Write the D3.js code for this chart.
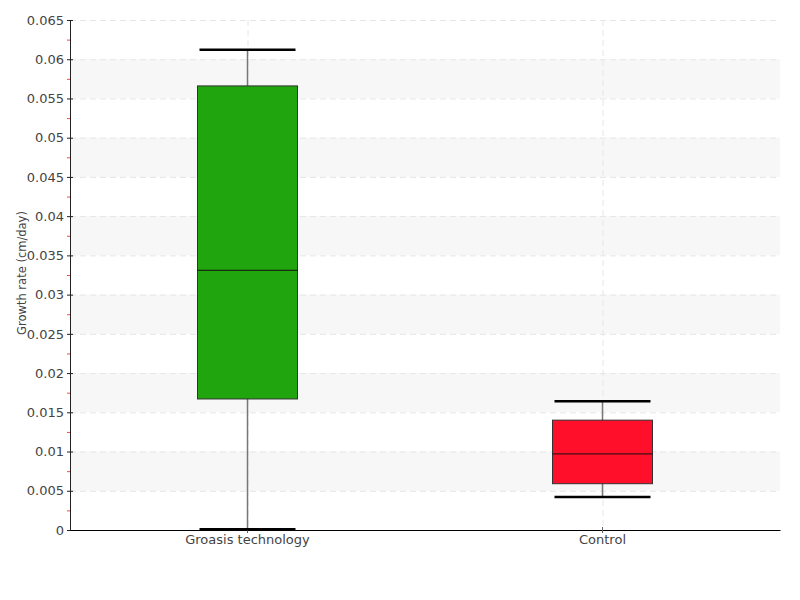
<!DOCTYPE html>
<meta charset="utf-8">
<html>
<head>
<style>
  body { margin: 0; background: #fff; }
  text { font-family: "DejaVu Sans", sans-serif; fill: #444; }
</style>
</head>
<body>
<div id="chart"></div>
<script src="https://d3js.org/d3.v7.min.js"></script>
<script>

// box plot data
var groups = ["Groasis technology", "Control"];
var whiskerLow = [0.0001, 0.0042];
var q1Values = [0.0167, 0.0059];
var medians = [0.0331, 0.0097];
var q3Values = [0.0566, 0.0140];
var whiskerHigh = [0.0612, 0.0164];
var boxColors = ["#21a50e", "#ff0f2a"];
var yTicks = [0, 0.005, 0.01, 0.015, 0.02, 0.025, 0.03, 0.035, 0.04, 0.045, 0.05, 0.055, 0.06, 0.065];

var margin = {top: 20, right: 20, bottom: 70, left: 70},
    width = 800 - margin.left - margin.right,
    height = 600 - margin.top - margin.bottom;

var svg = d3.select("#chart")
  .append("svg")
    .attr("width", 800)
    .attr("height", 600)
  .append("g")
    .attr("transform", "translate(" + margin.left + "," + margin.top + ")");

var y = d3.scaleLinear().domain([0, 0.065]).range([height, 0]);
var x = d3.scaleBand().domain(groups).range([0, width]);

// alternating bands
for (var i = 1; i < yTicks.length - 1; i += 2) {
  svg.append("rect")
    .attr("x", 0)
    .attr("y", y(yTicks[i + 1]))
    .attr("width", width)
    .attr("height", y(yTicks[i]) - y(yTicks[i + 1]))
    .style("fill", "#f7f7f7");
}

// horizontal grid
svg.selectAll(".hgrid")
  .data(yTicks.slice(1))
  .enter()
  .append("line")
    .attr("x1", 0)
    .attr("x2", width)
    .attr("y1", function(d) { return y(d) + 0.5 })
    .attr("y2", function(d) { return y(d) + 0.5 })
    .style("stroke", "#e6e6e6")
    .style("stroke-dasharray", "6,4");

// vertical grid
svg.selectAll(".vgrid")
  .data(groups)
  .enter()
  .append("line")
    .attr("x1", function(d) { return x(d) + x.bandwidth() / 2 + 0.5 })
    .attr("x2", function(d) { return x(d) + x.bandwidth() / 2 + 0.5 })
    .attr("y1", 0)
    .attr("y2", height)
    .style("stroke", "#e6e6e6")
    .style("stroke-dasharray", "6,4");

// minor ticks (red)
svg.selectAll(".minor")
  .data(yTicks.slice(0, -1))
  .enter()
  .append("line")
    .attr("x1", -3)
    .attr("x2", 0)
    .attr("y1", function(d) { return y(d + 0.0025) + 0.5 })
    .attr("y2", function(d) { return y(d + 0.0025) + 0.5 })
    .style("stroke", "#ff4444");

// y axis
var yAxis = svg.append("g")
  .call(d3.axisLeft(y).tickValues(yTicks).tickSize(3).tickPadding(3)
    .tickFormat(function(d) { return d3.format("")(+d.toFixed(4)); }));
yAxis.select(".domain").attr("stroke", "#222");
yAxis.selectAll(".tick line").attr("stroke", "#222").attr("x2", 3).attr("x1", -3);
yAxis.selectAll("text").style("font-size", "13px").style("fill", "#444");

// x axis
var xAxis = svg.append("g")
  .attr("transform", "translate(0," + height + ")")
  .call(d3.axisBottom(x).tickSize(3).tickSizeOuter(0).tickPadding(2));
xAxis.select(".domain").attr("stroke", "#000");
xAxis.selectAll(".tick line").attr("stroke", "#666").attr("y1", -3);
xAxis.selectAll("text").style("font-size", "13px").style("fill", "#444");

// y title
svg.append("text")
  .attr("transform", "rotate(-90)")
  .attr("x", -253)
  .attr("y", -44)
  .attr("text-anchor", "middle")
  .style("font-size", "11.5px")
  .text("Growth rate (cm/day)");

// boxes
var boxW = 100, capW = 96;
groups.forEach(function(g, i) {
  var cx = x(g) + x.bandwidth() / 2;
  svg.append("line")
    .attr("x1", cx).attr("x2", cx)
    .attr("y1", y(whiskerHigh[i])).attr("y2", y(whiskerLow[i]))
    .style("stroke", "#777").style("stroke-width", 1.5);
  [whiskerLow[i], whiskerHigh[i]].forEach(function(v) {
    svg.append("line")
      .attr("x1", cx - capW / 2).attr("x2", cx + capW / 2)
      .attr("y1", y(v)).attr("y2", y(v))
      .style("stroke", "#000").style("stroke-width", 2.5);
  });
  svg.append("rect")
    .attr("x", cx - boxW / 2)
    .attr("y", y(q3Values[i]))
    .attr("width", boxW)
    .attr("height", y(q1Values[i]) - y(q3Values[i]))
    .style("fill", boxColors[i])
    .style("stroke", "#333");
  svg.append("line")
    .attr("x1", cx - boxW / 2).attr("x2", cx + boxW / 2)
    .attr("y1", y(medians[i])).attr("y2", y(medians[i]))
    .style("stroke", "#111");
});

</script>
</body>
</html>
